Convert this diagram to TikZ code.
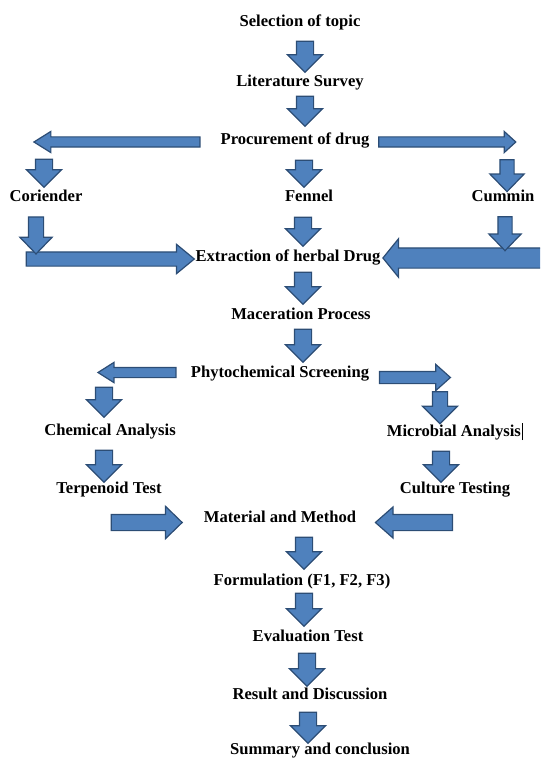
\documentclass[tikz,border=0pt]{standalone}
\usepackage{fontspec}
\setmainfont{Liberation Serif}
\usetikzlibrary{shapes.arrows}

\definecolor{arrowblue}{HTML}{4F81BD}
\definecolor{arrowline}{HTML}{2C4D75}

\begin{document}
\begin{tikzpicture}[
      x=1pt, y=-1pt,
      lbl/.style={anchor=base, inner sep=0pt,
                  font=\bfseries\fontsize{16.6}{20}\selectfont},
      % length, head width, shaft width, head length
      blockarrow/.style n args={4}{single arrow, draw=arrowline, fill=arrowblue,
                  line width=1.2pt, inner xsep=0pt, inner ysep={#3/2*1pt},
                  minimum height={#1*1pt}, minimum width={#2*1pt},
                  single arrow head extend={(#2-#3)/2*1pt},
                  single arrow tip angle={2*atan(#2/2/#4)}},
      downarrow/.style={blockarrow={#1}{34}{16}{17}, rotate=-90},
      leftarrow/.style n args={4}{blockarrow={#1}{#2}{#3}{#4}, rotate=180}
    ]
    \useasboundingbox (0,0) rectangle (540,759);
    \clip (0,0) rectangle (540,759);

    % labels
    \node[lbl] (topic)     at (300,27)  {Selection of topic};
    \node[lbl] (survey)    at (300,87)  {Literature Survey};
    \node[lbl] (procure)   at (295,145) {Procurement of drug};
    \node[lbl] (coriender) at (46,201)  {Coriender};
    \node[lbl] (fennel)    at (309,201) {Fennel};
    \node[lbl] (cummin)    at (503,201) {Cummin};
    \node[lbl] (extract)   at (288,261) {Extraction of herbal Drug};
    \node[lbl] (macer)     at (301,319) {Maceration Process};
    \node[lbl] (phyto)     at (280,377) {Phytochemical Screening};
    \node[lbl] (chem)      at (110,435) {Chemical Analysis};
    \node[lbl] (micro)     at (455,436) {Microbial Analysis\hspace{1.5pt}\rule[-4pt]{0.7pt}{17pt}};
    \node[lbl] (terp)      at (109,493) {Terpenoid Test};
    \node[lbl] (culture)   at (455,493) {Culture Testing};
    \node[lbl] (method)    at (280,522) {Material and Method};
    \node[lbl] (formul)    at (302,585) {Formulation (F1, F2, F3)};
    \node[lbl] (eval)      at (308,641) {Evaluation Test};
    \node[lbl] (result)    at (310,699) {Result and Discussion};
    \node[lbl] (summary)   at (320,754) {Summary and conclusion};

    % block arrows
    \node[downarrow=31] (a1) at (305,52.5) {};
    \node[downarrow=30] (a2) at (305,107) {};
    \node[leftarrow={166}{20}{9}{16}] (h1) at (121,142) {};
    \node[blockarrow={137}{20}{9}{11}] (h2) at (444.5,142) {};
    \node[downarrow=28] (a3) at (44,169) {};
    \node[downarrow=27] (a4) at (304,169.5) {};
    \node[blockarrow={32}{33}{13}{17}, rotate=-90] (a5) at (507,172) {};
    \node[blockarrow={168}{28}{13}{17}] (h3) at (106,259) {};
    \node[leftarrow={158}{37}{19}{15}] (h4) at (466,258) {};
    \node[blockarrow={37}{31}{14}{16}, rotate=-90] (a6) at (36,231.5) {};
    \node[downarrow=29] (a7) at (303,227.5) {};
    \node[blockarrow={34}{31}{13}{16}, rotate=-90] (a8) at (505,230) {};
    \node[downarrow=32] (a9) at (303,284) {};
    \node[downarrow=33] (a10) at (303,341.5) {};
    \node[leftarrow={78}{19}{9}{15}] (h5) at (141,372.5) {};
    \node[blockarrow={71}{25}{11}{14}] (h6) at (411.5,377.5) {};
    \node[downarrow=30] (a11) at (104,398) {};
    \node[blockarrow={32}{34}{14}{17}, rotate=-90] (a12) at (440,404) {};
    \node[downarrow=32] (a13) at (104,462) {};
    \node[downarrow=31] (a14) at (441,462.5) {};
    \node[blockarrow={71}{31}{15}{16}] (h7) at (142.5,522.5) {};
    \node[leftarrow={77}{30}{15}{17}] (h8) at (418.5,522.5) {};
    \node[downarrow=32] (a15) at (304,549) {};
    \node[downarrow=33] (a16) at (304,605.5) {};
    \node[downarrow=33] (a17) at (307,665.5) {};
    \node[downarrow=31] (a18) at (308,723.5) {};
\end{tikzpicture}
\end{document}
